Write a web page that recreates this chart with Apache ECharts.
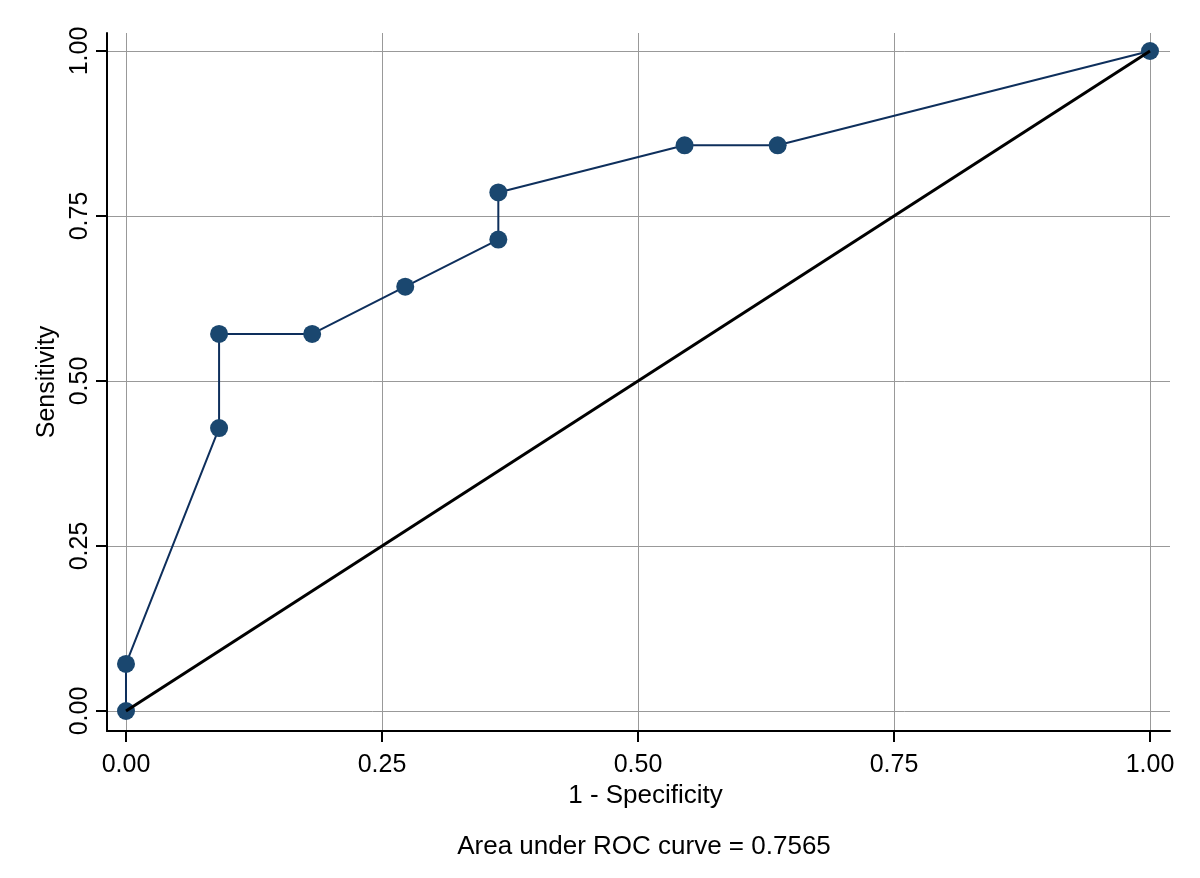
<!DOCTYPE html>
<html>
<head>
<meta charset="utf-8">
<script src="https://cdn.jsdelivr.net/npm/echarts@6/dist/echarts.min.js"></script>
<style>
html,body{margin:0;padding:0;background:#fff;}
#chart{width:1200px;height:878px;}
</style>
</head>
<body>
<div id="chart"></div>
<script>
// Data
const falsePositiveRate = [0, 0, 0.0909, 0.0909, 0.1818, 0.2727, 0.3636, 0.3636, 0.5455, 0.6364, 1];
const sensitivity = [0, 0.0714, 0.4286, 0.5714, 0.5714, 0.6429, 0.7143, 0.7857, 0.8571, 0.8571, 1];
const referenceLineX = [0, 1];
const referenceLineY = [0, 1];
const tickValues = [0, 0.25, 0.5, 0.75, 1];
const xAxisTitle = '1 - Specificity';
const yAxisTitle = 'Sensitivity';
const noteText = 'Area under ROC curve = 0.7565';

const FONT = "'Liberation Sans', Arial, sans-serif";
const rocData = falsePositiveRate.map((x, i) => [x, sensitivity[i]]);
const diagData = referenceLineX.map((x, i) => [x, referenceLineY[i]]);
const fmt = v => Number(v).toFixed(2);

const chart = echarts.init(document.getElementById('chart'), null, {renderer: 'canvas'});
chart.setOption({
  animation: false,
  backgroundColor: '#ffffff',
  textStyle: {fontFamily: FONT},
  grid: {left: 107, right: 30, top: 33, bottom: 147, containLabel: false},
  xAxis: {
    type: 'value',
    min: -0.01855, max: 1.01953,
    name: xAxisTitle,
    nameLocation: 'middle',
    nameGap: 44,
    nameTextStyle: {color: '#000', fontSize: 26, fontFamily: FONT, padding: [0, 0, 0, 14]},
    axisLine: {show: true, onZero: false, lineStyle: {color: '#000', width: 2}},
    axisTick: {show: true, length: 11, lineStyle: {color: '#000', width: 2}, customValues: tickValues},
    axisLabel: {color: '#000', fontSize: 25, fontFamily: FONT, margin: 22, customValues: tickValues, formatter: fmt},
    splitLine: {show: true, lineStyle: {color: '#999', width: 1}}
  },
  yAxis: {
    type: 'value',
    min: -0.0303, max: 1.02727,
    name: yAxisTitle,
    nameLocation: 'middle',
    nameGap: 43,
    nameRotate: 90,
    nameTextStyle: {color: '#000', fontSize: 25, fontFamily: FONT},
    axisLine: {show: true, onZero: false, lineStyle: {color: '#000', width: 2}},
    axisTick: {show: true, length: 11, lineStyle: {color: '#000', width: 2}, customValues: tickValues},
    axisLabel: {color: '#000', fontSize: 25, fontFamily: FONT, margin: 14, rotate: 90, customValues: tickValues, formatter: fmt},
    splitLine: {show: true, lineStyle: {color: '#999', width: 1}}
  },
  graphic: [{
    type: 'text',
    x: 644, y: 847,
    style: {text: noteText, fill: '#000', font: '26px ' + FONT, align: 'center', verticalAlign: 'middle'}
  }],
  series: [
    {
      type: 'line',
      data: rocData,
      symbol: 'circle',
      symbolSize: 18,
      lineStyle: {color: '#0e2f5c', width: 2},
      itemStyle: {color: '#1a476f'},
      z: 2
    },
    {
      type: 'line',
      data: diagData,
      symbol: 'none',
      lineStyle: {color: '#000', width: 3},
      z: 3
    }
  ]
});
</script>
</body>
</html>
